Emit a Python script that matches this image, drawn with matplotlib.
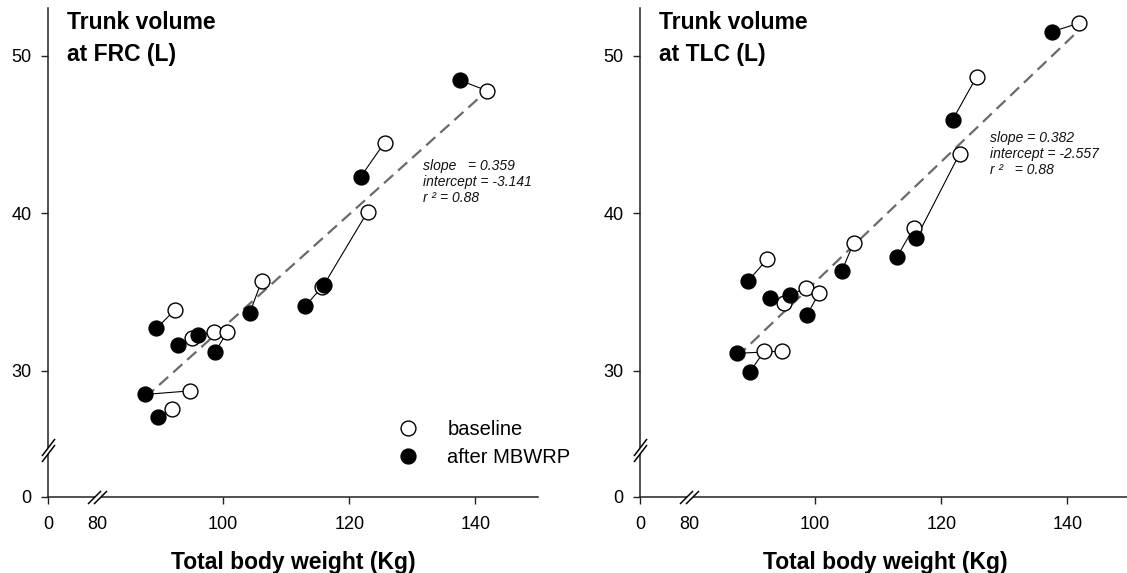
import numpy as np
import matplotlib
matplotlib.use("Agg")
import matplotlib.pyplot as plt
from matplotlib.path import Path
from matplotlib.transforms import blended_transform_factory

plt.rcParams['font.family'] = ['Liberation Sans', 'DejaVu Sans']

# body weight (kg) of the 11 patients, baseline and after MBWRP
weight_base = [141.8, 125.6, 122.9, 115.6, 106.1, 92.4, 95.0, 98.5, 100.6, 94.8, 91.9]
weight_after = [137.6, 121.8, 116.0, 113.0, 104.2, 89.4, 92.9, 96.0, 98.7, 87.6, 89.6]

# trunk volume at FRC (L)
frc_base = [47.8, 44.5, 40.1, 35.3, 35.7, 33.9, 32.07, 32.45, 32.45, 28.74, 27.58]
frc_after = [48.44, 42.31, 35.48, 34.10, 33.68, 32.70, 31.66, 32.31, 31.19, 28.51, 27.06]

# trunk volume at TLC (L)
tlc_base = [52.07, 48.67, 43.78, 39.07, 38.14, 37.11, 34.34, 35.27, 34.92, 31.26, 31.26]
tlc_after = [51.54, 45.94, 38.41, 37.25, 36.32, 35.73, 34.62, 34.80, 33.57, 31.12, 29.91]

titles = ["Trunk volume\nat FRC (L)", "Trunk volume\nat TLC (L)"]
slopes = [0.359, 0.382]
intercepts = [-3.141, -2.557]
stats_text = ["slope   = 0.359\nintercept = -3.141\nr \u00b2 = 0.88",
              "slope = 0.382\nintercept = -2.557\nr \u00b2   = 0.88"]
stats_pos = [(131.7, 43.45), (127.8, 45.25)]

x_ticks = [0, 80, 100, 120, 140]
y_ticks = [0, 30, 40, 50]

# broken axes: 0..80 squeezed on x, 0..25 squeezed on y
XB, KX = 80.0, 7.8 / 80
YB, KY = 25.0, 2.98 / 25


def fx(x):
    x = np.asarray(x, dtype=float)
    return np.where(x >= XB, x, XB - (XB - x) * KX)


def fx_inv(u):
    u = np.asarray(u, dtype=float)
    return np.where(u >= XB, u, XB - (XB - u) / KX)


def fy(y):
    y = np.asarray(y, dtype=float)
    return np.where(y >= YB, y, YB - (YB - y) * KY)


def fy_inv(u):
    u = np.asarray(u, dtype=float)
    return np.where(u >= YB, u, YB - (YB - u) / KY)


def seg_path(a, b):
    verts = [a[0], a[1], b[0], b[1]]
    codes = [Path.MOVETO, Path.LINETO, Path.MOVETO, Path.LINETO]
    return Path(verts, codes)


# break marks (pixel geometry, rescaled by marker size)
xbreak_lines = seg_path([(-9.5, -6.5), (3.5, 6.5)], [(-3.5, -6.5), (9.5, 6.5)])
xbreak_fill = Path([(-9.5, -6.5), (3.5, 6.5), (9.5, 6.5), (-3.5, -6.5), (-9.5, -6.5)])
ybreak_lines = seg_path([(-6.5, -11.5), (6.5, 5.5)], [(-6.5, -5.5), (6.5, 11.5)])
ybreak_fill = Path([(-6.5, -11.5), (6.5, 5.5), (6.5, 11.5), (-6.5, -5.5), (-6.5, -11.5)])

fig = plt.figure(figsize=(11.27, 5.73), dpi=100)
lefts = [48 / 1127, 640 / 1127]
panels = [(frc_base, frc_after), (tlc_base, tlc_after)]

for i, (vb, va) in enumerate(panels):
    ax = fig.add_axes([lefts[i], 76.3 / 573, 490.3 / 1127, 488.7 / 573])
    ax.set_xscale('function', functions=(fx, fx_inv))
    ax.set_yscale('function', functions=(fy, fy_inv))
    ax.set_xlim(0, 150)
    ax.set_ylim(0, 53.04)

    # regression line
    xr = np.array([min(weight_after), max(weight_base)])
    ax.plot(xr, slopes[i] * xr + intercepts[i], color='#6a6a6a', lw=1.6,
            dashes=(5.5, 3), zorder=2)

    # pairs
    for k in range(len(weight_base)):
        ax.plot([weight_after[k], weight_base[k]], [va[k], vb[k]],
                color='black', lw=0.8, zorder=3)

    ax.plot(weight_base, vb, 'o', ls='none', ms=10.7, mfc='white', mec='black',
            mew=1.0, zorder=4, label='baseline')
    ax.plot(weight_after, va, 'o', ls='none', ms=10.7, mfc='black', mec='black',
            mew=1.0, zorder=5, label='after MBWRP')

    ax.text(stats_pos[i][0], stats_pos[i][1], stats_text[i], fontsize=10,
            style='italic', va='top', ha='left', linespacing=1.2, color='#111111')
    ax.text(0.038, 0.993, titles[i], transform=ax.transAxes, fontsize=16.5,
            fontweight='bold', va='top', ha='left', linespacing=1.5)

    for s in ['top', 'right']:
        ax.spines[s].set_visible(False)
    for s in ['left', 'bottom']:
        ax.spines[s].set_linewidth(1.1)
        ax.spines[s].set_color('#222222')

    ax.set_xticks(x_ticks)
    ax.set_xticklabels([str(t) for t in x_ticks])
    ax.set_yticks(y_ticks)
    ax.set_yticklabels([str(t) for t in y_ticks])
    ax.minorticks_off()
    ax.tick_params(axis='both', direction='out', length=5, width=1.0,
                   color='#222222', labelsize=13)
    ax.tick_params(axis='x', pad=9)
    ax.tick_params(axis='y', pad=7)
    ax.xaxis.get_major_ticks()[1].tick1line.set_visible(False)

    ax.set_xlabel("Total body weight (Kg)", fontsize=16.5, fontweight='bold',
                  labelpad=13)

    # axis break marks
    tb = blended_transform_factory(ax.transData, ax.transAxes)
    tl = blended_transform_factory(ax.transAxes, ax.transData)
    ax.plot([XB], [0], marker=xbreak_fill, ms=13.7, mfc='white', mec='none',
            transform=tb, clip_on=False, zorder=6)
    ax.plot([XB], [0], marker=xbreak_lines, ms=13.7, mfc='none', mec='black',
            mew=1.1, transform=tb, clip_on=False, zorder=7)
    ax.plot([0], [YB], marker=ybreak_fill, ms=16.6, mfc='white', mec='none',
            transform=tl, clip_on=False, zorder=6)
    ax.plot([0], [YB], marker=ybreak_lines, ms=16.6, mfc='none', mec='black',
            mew=1.1, transform=tl, clip_on=False, zorder=7)

    if i == 0:
        ax.legend(loc='center left', bbox_to_anchor=(0.714, 0.108), frameon=False,
                  fontsize=14.5, handlelength=1.0, handletextpad=1.44,
                  borderpad=0, borderaxespad=0, labelspacing=0.45, numpoints=1)

fig.savefig("out.png", dpi=100)
